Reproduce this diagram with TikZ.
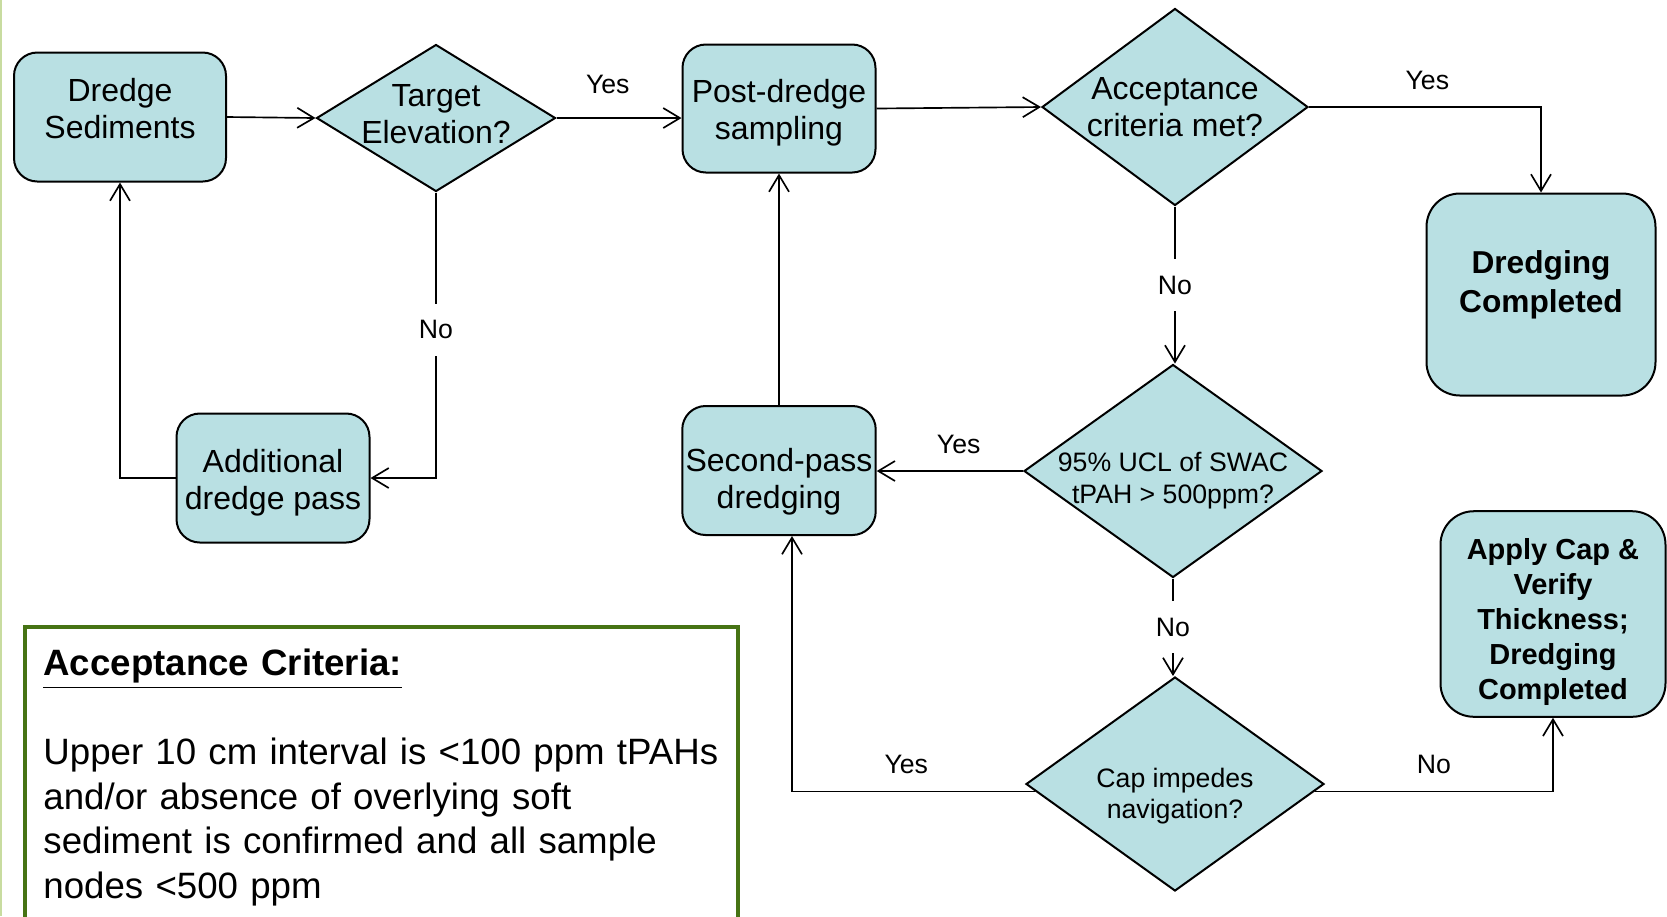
\documentclass[tikz,border=0pt]{standalone}
\usepackage{fontspec}
\setmainfont{Liberation Sans}
\usetikzlibrary{arrows.meta,shapes.geometric}
\definecolor{boxfill}{RGB}{185,224,227}
\definecolor{critgreen}{RGB}{70,115,20}
\definecolor{edgegreen}{RGB}{200,220,160}

\begin{document}
\begin{tikzpicture}[x=0.3pt,y=-0.3pt,->,>={Straight Barb[length=5pt,width=6pt]},line width=0.5pt]
\tikzset{StepBox/.style = {draw,rectangle,rounded corners=7pt,fill=boxfill,
                           line width=0.6pt,align=center,inner xsep=1pt,
                           font=\fontsize{9.6}{11.1}\selectfont},
         EndBox/.style = {StepBox,rounded corners=10pt},
         Decision/.style = {draw,diamond,fill=boxfill,line width=0.6pt,
                            align=center,inner sep=-12pt,
                            font=\fontsize{9.6}{11.1}\selectfont},
         Answer/.style = {font=\fontsize{8}{9.6}\selectfont,inner sep=1pt},
         GapAnswer/.style = {Answer,fill=white,inner sep=5pt},
         CritBox/.style = {draw=critgreen,line width=1.05pt,align=left,
                           inner xsep=5.6pt,inner ysep=6.5pt,text width=202.8pt,
                           text depth=85pt,anchor=north west,
                           font=\fontsize{11}{13.4}\selectfont}}
\useasboundingbox (0,0) rectangle (1667,916);
\draw[-,edgegreen,line width=0.8pt] (1,0) -- (1,916);
\node[StepBox,minimum width=63.6pt,minimum height=38.7pt,text depth=5.1pt] (dredge) at (120,117) {Dredge\\Sediments};
\node[Decision,minimum width=71.7pt,minimum height=44.1pt,text depth=2.2pt] (target) at (436,118) {Target\\Elevation?};
\node[StepBox,minimum width=57.9pt,minimum height=38.4pt,text height=20.7pt] (post) at (779,108.5) {Post-dredge\\sampling};
\node[Decision,minimum width=79.8pt,minimum height=59.1pt] (accept) at (1175,107) {Acceptance\\criteria met?};
\node[EndBox,minimum width=68.7pt,minimum height=60.6pt,text depth=8pt,
      font=\bfseries\fontsize{9.5}{11.7}\selectfont] (done) at (1541,294.5) {Dredging\\Completed};
\node[StepBox,minimum width=57.9pt,minimum height=38.7pt,text height=20.7pt] (extra) at (273,478) {Additional\\dredge pass};
\node[StepBox,minimum width=57.9pt,minimum height=38.7pt,text height=24.5pt] (second) at (779,470.5) {Second-pass\\dredging};
\node[Decision,minimum width=89.4pt,minimum height=63.9pt,text height=21.1pt,
      font=\fontsize{8}{9.6}\selectfont] (ucl) at (1173,471) {95\% UCL of SWAC\\tPAH > 500ppm?};
\node[Decision,minimum width=89.4pt,minimum height=64.2pt,text height=22.1pt,
      font=\fontsize{8}{9.3}\selectfont] (cap) at (1175,784) {Cap impedes\\navigation?};
\node[EndBox,minimum width=67.5pt,minimum height=60.9pt,text height=53.2pt,
      font=\bfseries\fontsize{8.7}{10.5}\selectfont] (capdone) at (1553,614) {Apply Cap \&\\Verify\\Thickness;\\Dredging\\Completed};
\node[CritBox] (crit) at (23,625) {\underline{\textbf{Acceptance Criteria:}}\\[13.4pt]
  \mbox{Upper 10 cm interval is <100 ppm tPAHs}\\and/or absence of overlying soft\\
  sediment is confirmed and all sample\\nodes <500 ppm};

\draw (dredge.east) -- (target.west);
\draw (target.east) -- node[Answer,pos=0.41,above=6pt]{Yes} (target.east -| post.west);
\draw (post.east) -- (accept.west);
\draw (accept.east) -| node[Answer,pos=0.255,above=4pt]{Yes} (done.north);
\draw (accept.south) -- node[GapAnswer]{No} (accept.south |- ucl.north);
\draw (target.south) |- node[GapAnswer,pos=0.24]{No} (extra.east);
\draw (extra.west) -| (dredge.south);
\draw (ucl.west) -- node[Answer,pos=0.44,above=4pt]{Yes} (ucl.west -| second.east);
\draw (second.north) -- (post.south);
\draw (ucl.south) -- node[GapAnswer]{No} (ucl.south |- cap.north);
\draw (cap.183) -| node[Answer,pos=0.265,above=4pt]{Yes} ([xshift=3.9pt]second.south);
\draw (cap.-3) -| node[Answer,pos=0.25,above=4pt]{No} (capdone.south);
\end{tikzpicture}
\end{document}
